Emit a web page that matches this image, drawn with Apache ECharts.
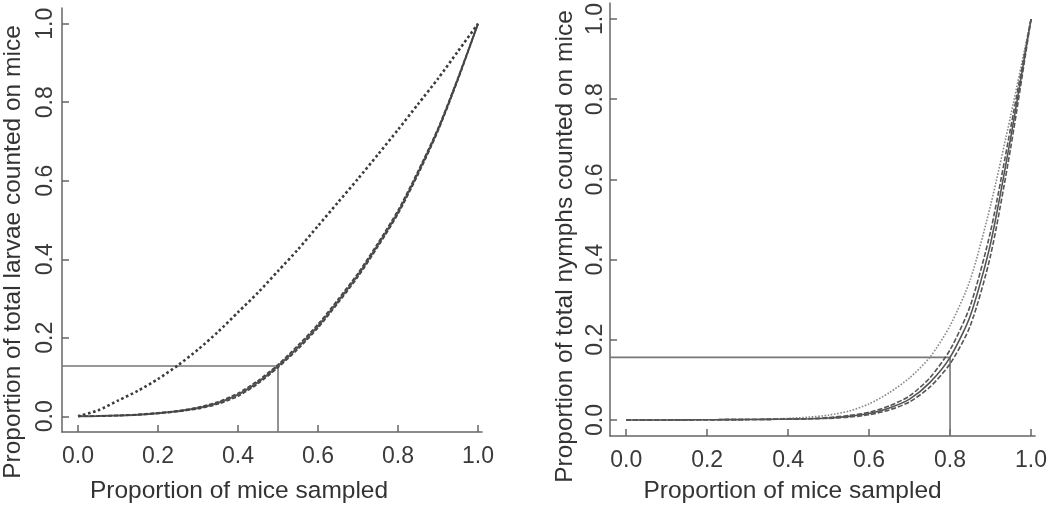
<!DOCTYPE html>
<html>
<head>
<meta charset="utf-8">
<script src="https://cdn.jsdelivr.net/npm/echarts@6/dist/echarts.min.js"></script>
<style>
html,body{margin:0;padding:0;background:#fff;}
#chart{width:1050px;height:509px;}
</style>
</head>
<body>
<div id="chart"></div>
<script>
// ---- data ----
const xGrid = [0,0.05,0.1,0.15,0.2,0.25,0.3,0.35,0.4,0.45,0.5,0.55,0.6,0.65,0.7,0.75,0.8,0.85,0.9,0.95,1.0];
const tickValues = [0,0.2,0.4,0.6,0.8,1.0];

// Left panel: larvae
const larvaeObserved = [0,0.0005,0.002,0.004,0.008,0.013,0.021,0.034,0.055,0.087,0.128,0.176,0.23,0.293,0.36,0.437,0.52,0.62,0.73,0.86,1.0];
const larvaeLower    = [0,0.0004,0.0015,0.0035,0.007,0.012,0.019,0.031,0.051,0.083,0.124,0.171,0.225,0.288,0.355,0.432,0.515,0.615,0.726,0.857,1.0];
const larvaeUpper    = [0,0.0006,0.0025,0.005,0.009,0.014,0.023,0.037,0.059,0.091,0.132,0.181,0.235,0.298,0.365,0.442,0.525,0.625,0.734,0.863,1.0];
const larvaeNull     = [0,0.015,0.04,0.065,0.095,0.13,0.17,0.215,0.265,0.315,0.37,0.425,0.485,0.545,0.605,0.667,0.73,0.795,0.86,0.93,1.0];
const larvaeRefX = 0.5, larvaeRefY = 0.128;

// Right panel: nymphs
const nymphObserved = [0,0,0,0.0003,0.0005,0.0008,0.001,0.0015,0.002,0.003,0.005,0.009,0.016,0.03,0.052,0.093,0.156,0.26,0.44,0.705,1.0];
const nymphLower    = [0,0,0,0.0003,0.0005,0.0008,0.001,0.0015,0.002,0.003,0.004,0.007,0.013,0.025,0.045,0.082,0.14,0.235,0.41,0.68,1.0];
const nymphUpper    = [0,0,0,0.0003,0.0005,0.0008,0.001,0.0015,0.002,0.003,0.006,0.011,0.019,0.035,0.06,0.105,0.175,0.285,0.47,0.73,1.0];
const nymphNull     = [0,0,0,0,0.0005,0.001,0.0015,0.002,0.004,0.007,0.012,0.022,0.04,0.068,0.105,0.156,0.235,0.35,0.535,0.76,1.0];
const nymphRefX = 0.8, nymphRefY = 0.156;

const xTitle = 'Proportion of mice sampled';
const yTitleLeft = 'Proportion of total larvae counted on mice';
const yTitleRight = 'Proportion of total nymphs counted on mice';

// ---- chart ----
const AXMIN = -0.04, XMAX = 1.01, YMAX = 1.04;
const FONT = '"Liberation Sans", Arial, sans-serif';
const pair = (ys) => xGrid.map((x,i)=>[x, ys[i]]);

function xAxis(idx, gap, shift){
  return {
    type:'value', gridIndex:idx, min:AXMIN, max:XMAX,
    name:xTitle, nameLocation:'middle', nameGap:gap,
    nameTextStyle:{fontFamily:FONT, fontSize:24.5, color:'#333', padding:[0, shift, 0, 0]},
    axisLine:{show:true, onZero:false, lineStyle:{color:'#666', width:1.5}},
    axisTick:{show:true, inside:true, length:7, customValues:tickValues, lineStyle:{color:'#666', width:1.5}},
    axisLabel:{customValues:tickValues, formatter:v=>v.toFixed(1), fontFamily:FONT, fontSize:23, color:'#3a3a3a', margin:13},
    splitLine:{show:false}
  };
}
function yAxis(idx, name, gap, lblMargin, shift){
  return {
    type:'value', gridIndex:idx, min:AXMIN, max:YMAX,
    name:name, nameLocation:'middle', nameGap:gap, nameRotate:90,
    nameTextStyle:{fontFamily:FONT, fontSize:24.5, color:'#333', padding:[0, shift, 0, 0]},
    axisLine:{show:true, onZero:false, lineStyle:{color:'#666', width:1.5}},
    axisTick:{show:true, inside:true, length:7, customValues:tickValues, lineStyle:{color:'#666', width:1.5}},
    axisLabel:{customValues:tickValues, formatter:v=>v.toFixed(1), rotate:90, fontFamily:FONT, fontSize:23, color:'#3a3a3a', margin:lblMargin},
    splitLine:{show:false}
  };
}
function curve(idx, ys, type, color, width){
  return {
    type:'line', xAxisIndex:idx, yAxisIndex:idx, data:pair(ys),
    showSymbol:false, smooth:0.25, silent:true,
    lineStyle:{type:type, color:color, width:width}, z:3
  };
}
function refLines(idx, rx, ry){
  return {
    type:'line', xAxisIndex:idx, yAxisIndex:idx,
    data:[[AXMIN, ry],[rx, ry],[rx, AXMIN]],
    showSymbol:false, silent:true,
    lineStyle:{color:'#777', width:1.6}, z:2
  };
}

const chart = echarts.init(document.getElementById('chart'), null, {renderer:'canvas'});
chart.setOption({
  animation:false,
  backgroundColor:'#fff',
  grid:[
    {left:61, top:8, width:421, height:427},
    {left:610, top:3, width:427, height:435}
  ],
  xAxis:[xAxis(0, 47, 66), xAxis(1, 43, 60)],
  yAxis:[yAxis(0, yTitleLeft, 36, 5, 64), yAxis(1, yTitleRight, 32, 3, 54)],
  series:[
    refLines(0, larvaeRefX, larvaeRefY),
    curve(0, larvaeNull, 'dotted', '#3c3c3c', 2.6),
    curve(0, larvaeObserved, 'solid', '#555', 2),
    curve(0, larvaeLower, [4,2], '#444', 1.5),
    curve(0, larvaeUpper, [4,2], '#444', 1.5),
    refLines(1, nymphRefX, nymphRefY),
    curve(1, nymphNull, 'dotted', '#888', 1.6),
    curve(1, nymphObserved, 'solid', '#555', 1.6),
    curve(1, nymphLower, [5,2], '#555', 1.6),
    curve(1, nymphUpper, [5,2], '#555', 1.6)
  ]
});
</script>
</body>
</html>
